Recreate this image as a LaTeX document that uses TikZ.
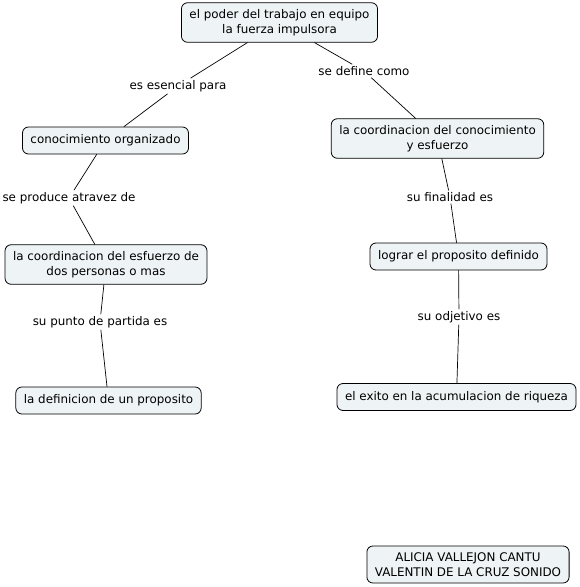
\documentclass[tikz,border=0pt]{standalone}
\usepackage{fontspec}
\setmainfont{DejaVu Sans}
\usepackage{xcolor}
\definecolor{cmapfill}{HTML}{EEF3F5}

\begin{document}
\begin{tikzpicture}[x=1pt,y=-1pt,line cap=round,
  font=\fontsize{11.9}{15}\selectfont,
  concept/.style={draw,fill=cmapfill,rounded corners=6pt,align=center,
    inner xsep=8pt,inner ysep=6.5pt,minimum height=27pt,line width=0.8pt},
  linkword/.style={fill=white,inner sep=2pt,align=center},
  link/.style={line width=0.7pt}]
\useasboundingbox[fill=white] (0,0) rectangle (579,587);
% concepts
\node[concept] (poder) at (279.5,22.5) {el poder del trabajo en equipo\\la fuerza impulsora};
\node[concept] (conoc) at (105.5,140.5) {conocimiento organizado};
\node[concept] (coordce) at (437.5,138.5) {la coordinacion del conocimiento\\y esfuerzo};
\node[concept] (coordep) at (106,264.5) {la coordinacion del esfuerzo de\\dos personas o mas};
\node[concept] (lograr) at (458.5,256.5) {lograr el proposito definido};
\node[concept] (defin) at (108.5,400.5) {la definicion de un proposito};
\node[concept] (exito) at (456.5,397) {el exito en la acumulacion de riqueza};
\node[concept] (autores) at (468,564.5) {ALICIA VALLEJON CANTU\\VALENTIN DE LA CRUZ SONIDO};
% linking words
\node[linkword] (esenc) at (178,86) {es esencial para};
\node[linkword] (sedef) at (364,71) {se define como};
\node[linkword] (produce) at (69,198) {se produce atravez de};
\node[linkword] (final) at (450,197) {su finalidad es};
\node[linkword] (partida) at (100,322) {su punto de partida es};
\node[linkword] (objet) at (459,317) {su odjetivo es};
% connectors
\draw[link] (poder) -- (esenc) -- (conoc);
\draw[link] (poder) -- (sedef) -- (coordce);
\draw[link] (conoc) -- (produce) -- (coordep);
\draw[link] (coordce) -- (final) -- (lograr);
\draw[link] (coordep) -- (partida) -- (defin);
\draw[link] (lograr) -- (objet) -- (exito);
\end{tikzpicture}
\end{document}
